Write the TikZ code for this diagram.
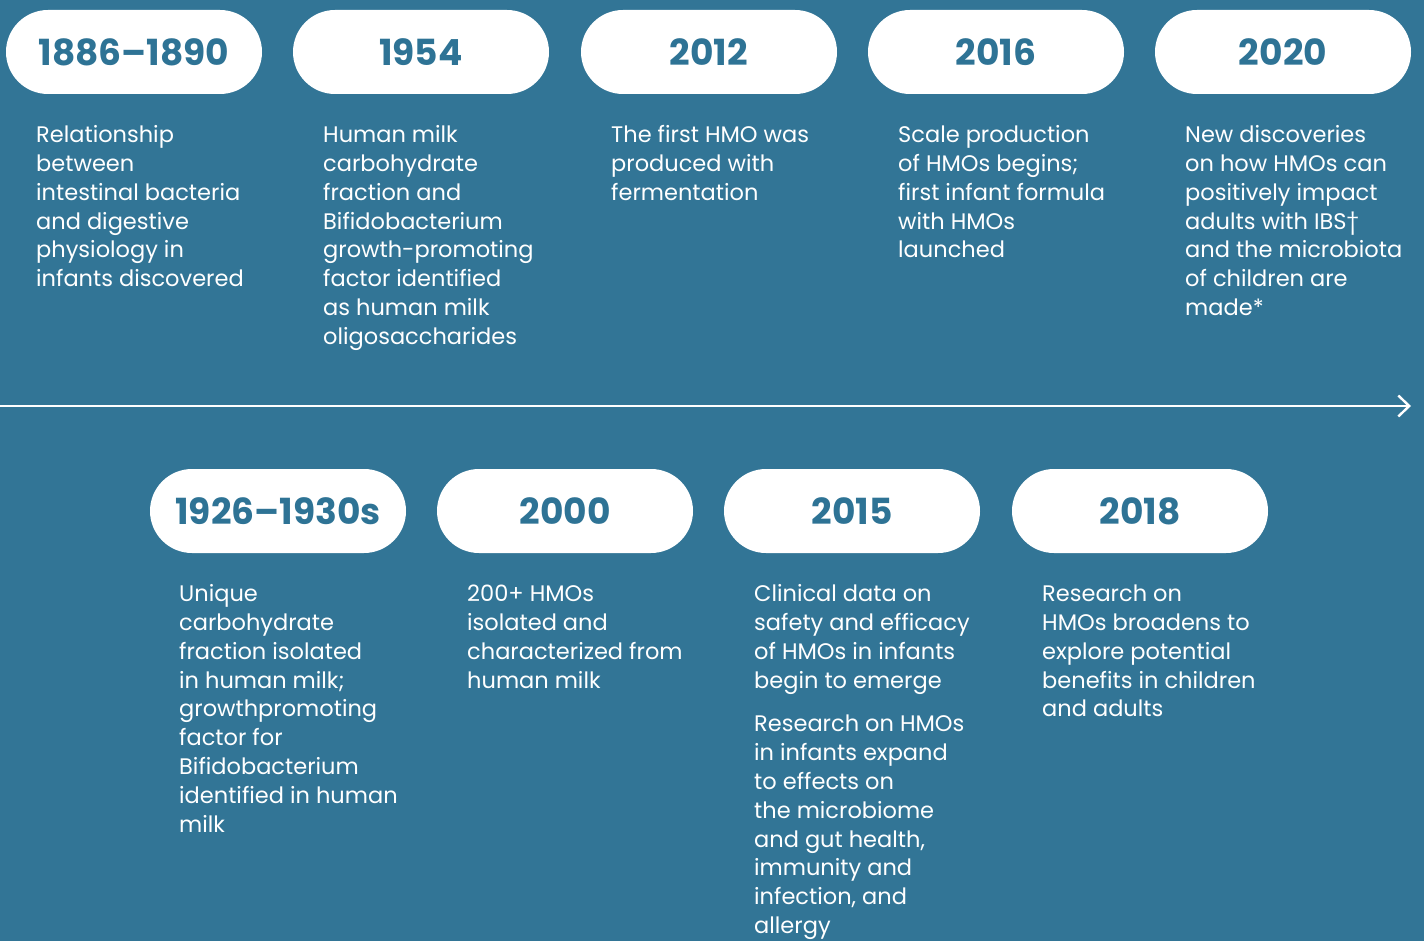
\documentclass[tikz,border=0pt]{standalone}
\usepackage{fontspec}
\setmainfont{Poppins}
\usetikzlibrary{arrows.meta}
\definecolor{bg}{HTML}{327596}
\definecolor{yr}{HTML}{2E7395}
\tikzset{
  pill/.style={fill=white, rounded corners=42pt, minimum width=256pt, minimum height=84pt, inner sep=0pt,
    text=yr, font=\fontsize{36}{40}\selectfont\bfseries},
  desc/.style={anchor=north west, align=left, inner sep=0pt, text=white,
    font=\fontsize{22.5}{28.8}\selectfont},
}
\begin{document}
\begin{tikzpicture}[x=1pt,y=-1pt]
\fill[bg] (0,0) rectangle (1424,941);
\useasboundingbox (0,0) rectangle (1424,941);
% top row
\node[pill] (y1886) at (134,52) {1886–1890};
\node[pill] (y1954) at (421,52) {1954};
\node[pill] (y2012) at (709,52) {2012};
\node[pill] (y2016) at (996,52) {2016};
\node[pill] (y2020) at (1283,52) {2020};
% bottom row
\node[pill] (y1926) at (278,511) {1926–1930s};
\node[pill] (y2000) at (565,511) {2000};
\node[pill] (y2015) at (852,511) {2015};
\node[pill] (y2018) at (1140,511) {2018};
% timeline
\coordinate (tlstart) at (0,406);
\coordinate (tlend) at (1411,406);
\draw[white, line width=2.4pt, -{Straight Barb[length=11pt,width=21pt,line width=2.4pt]}] (tlstart) -- (tlend);
% descriptions top (first baseline 142.5)
\node[desc] (d1886) at (36,122.3) {\strut Relationship\\between\\intestinal bacteria\\and digestive\\physiology in\\infants discovered};
\node[desc] (d1954) at (323,122.3) {\strut Human milk\\carbohydrate\\fraction and\\Bifidobacterium\\growth-promoting\\factor identified\\as human milk\\oligosaccharides};
\node[desc] (d2012) at (611,122.3) {\strut The first HMO was\\produced with\\fermentation};
\node[desc] (d2016) at (898,122.3) {\strut Scale production\\of HMOs begins;\\first infant formula\\with HMOs\\launched};
\node[desc] (d2020) at (1185,122.3) {\strut New discoveries\\on how HMOs can\\positively impact\\adults with IBS†\\and the microbiota\\of children are\\made*};
% descriptions bottom (first baseline 601.5)
\node[desc] (d1926) at (179,581.3) {\strut Unique\\carbohydrate\\fraction isolated\\in human milk;\\growthpromoting\\factor for\\Bifidobacterium\\identified in human\\milk};
\node[desc] (d2000) at (467,581.3) {\strut 200+ HMOs\\isolated and\\characterized from\\human milk};
\node[desc] (d2015a) at (754,581.3) {\strut Clinical data on\\safety and efficacy\\of HMOs in infants\\begin to emerge};
\node[desc] (d2015b) at (754,711.5) {\strut Research on HMOs\\in infants expand\\to effects on\\the microbiome\\and gut health,\\immunity and\\infection, and\\allergy};
\node[desc] (d2018) at (1042,581.3) {\strut Research on\\HMOs broadens to\\explore potential\\benefits in children\\and adults};
\end{tikzpicture}
\end{document}
